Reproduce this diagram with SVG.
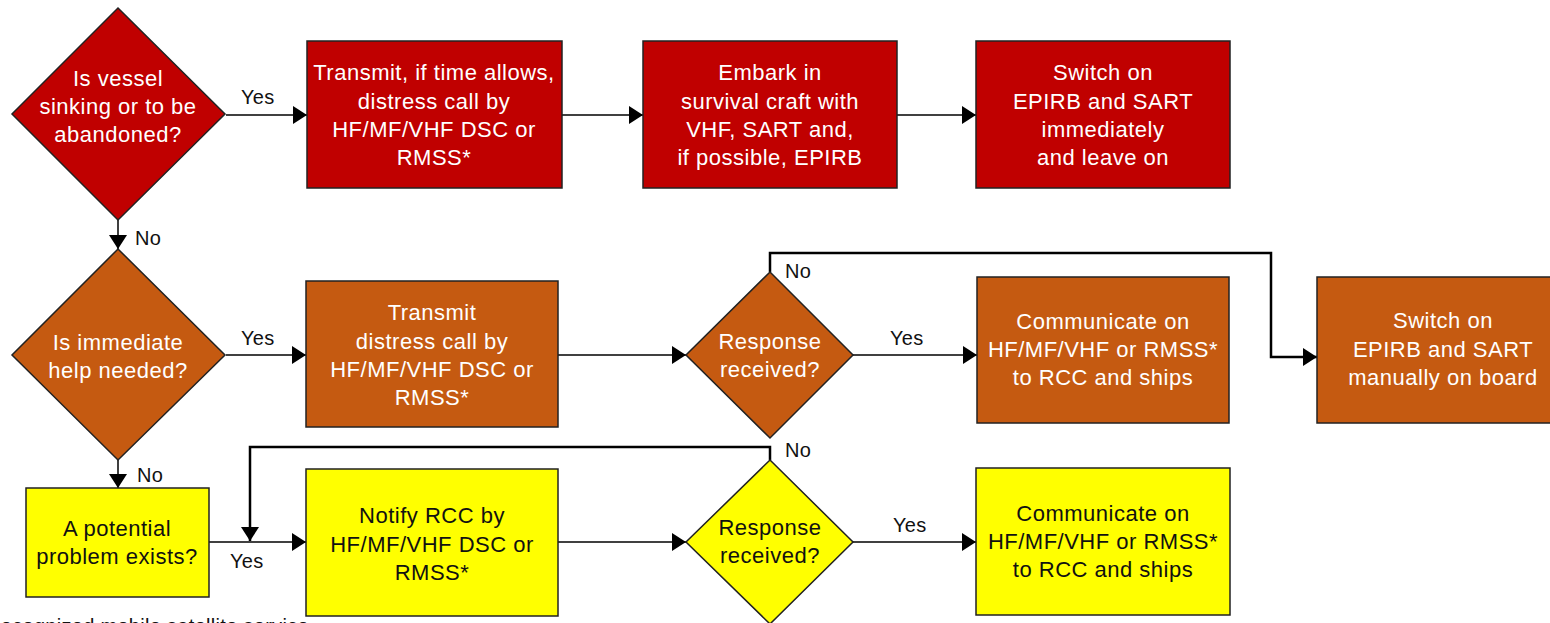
<svg xmlns="http://www.w3.org/2000/svg" width="1550" height="623" viewBox="0 0 1550 623">
<defs>
<style>
.red{fill:#C00000;stroke:#222;stroke-width:1.5}
.org{fill:#C55A11;stroke:#222;stroke-width:1.5}
.yel{fill:#FFFF00;stroke:#222;stroke-width:1.5}
text{font-family:"Liberation Sans",Arial,sans-serif;font-size:22px;letter-spacing:0.5px;text-anchor:middle}
.w{fill:#FFFFFF}
.k{fill:#111}
.lbl{fill:#111;font-size:20px;text-anchor:start;letter-spacing:0.3px}
.c{fill:none;stroke:#000;stroke-width:1.5}
.c2{fill:none;stroke:#000;stroke-width:2.5}
</style>
<marker id="ah" markerUnits="userSpaceOnUse" markerWidth="15" markerHeight="20" refX="14" refY="10" orient="auto">
<path d="M0,1 L14,10 L0,19 z" fill="#000"/>
</marker>
</defs>
<rect width="1550" height="623" fill="#fff"/>

<g id="connectors">
<line class="c" x1="226" y1="115" x2="307" y2="115" marker-end="url(#ah)"/>
<line class="c" x1="562" y1="115" x2="643" y2="115" marker-end="url(#ah)"/>
<line class="c" x1="897" y1="115" x2="976" y2="115" marker-end="url(#ah)"/>
<line class="c" x1="118" y1="220" x2="118" y2="249" marker-end="url(#ah)"/>
<line class="c" x1="226" y1="355" x2="306" y2="355" marker-end="url(#ah)"/>
<line class="c" x1="558" y1="355" x2="686" y2="355" marker-end="url(#ah)"/>
<line class="c" x1="853" y1="355" x2="977" y2="355" marker-end="url(#ah)"/>
<polyline class="c2" points="770,272 770,253 1271,253 1271,357 1317,357" marker-end="url(#ah)"/>
<line class="c" x1="118" y1="460" x2="118" y2="488" marker-end="url(#ah)"/>
<line class="c" x1="209" y1="542" x2="306" y2="542" marker-end="url(#ah)"/>
<polyline class="c2" points="770,460 770,447 250,447 250,541" marker-end="url(#ah)"/>
<line class="c" x1="558" y1="542" x2="686" y2="542" marker-end="url(#ah)"/>
<line class="c" x1="853" y1="542" x2="976" y2="542" marker-end="url(#ah)"/>
<text class="lbl" x="241" y="104">Yes</text>
<text class="lbl" x="135" y="245">No</text>
<text class="lbl" x="241" y="345">Yes</text>
<text class="lbl" x="890" y="345">Yes</text>
<text class="lbl" x="785" y="278">No</text>
<text class="lbl" x="137" y="482">No</text>
<text class="lbl" x="230" y="568">Yes</text>
<text class="lbl" x="785" y="457">No</text>
<text class="lbl" x="893" y="532">Yes</text>
</g>

<g id="d1">
<polygon class="red" points="118,8 225,114 118,220 12,114"/>
<text class="w" x="118" y="86">Is vessel</text>
<text class="w" x="118" y="114">sinking or to be</text>
<text class="w" x="118" y="142">abandoned?</text>
</g>
<g id="r1">
<rect class="red" x="307" y="41" width="255" height="147"/>
<text class="w" x="434" y="80">Transmit, if time allows,</text>
<text class="w" x="434" y="109">distress call by</text>
<text class="w" x="434" y="137">HF/MF/VHF DSC or</text>
<text class="w" x="434" y="165">RMSS*</text>
</g>
<g id="r2">
<rect class="red" x="643" y="41" width="254" height="147"/>
<text class="w" x="770" y="80">Embark in</text>
<text class="w" x="770" y="109">survival craft with</text>
<text class="w" x="770" y="137">VHF, SART and,</text>
<text class="w" x="770" y="165">if possible, EPIRB</text>
</g>
<g id="r3">
<rect class="red" x="976" y="41" width="254" height="147"/>
<text class="w" x="1103" y="80">Switch on</text>
<text class="w" x="1103" y="109">EPIRB and SART</text>
<text class="w" x="1103" y="137">immediately</text>
<text class="w" x="1103" y="165">and leave on</text>
</g>

<g id="d2">
<polygon class="org" points="118,249 225,355 118,460 12,355"/>
<text class="w" x="118" y="350">Is immediate</text>
<text class="w" x="118" y="378">help needed?</text>
</g>
<g id="o1">
<rect class="org" x="306" y="281" width="252" height="146"/>
<text class="w" x="432" y="320">Transmit</text>
<text class="w" x="432" y="349">distress call by</text>
<text class="w" x="432" y="377">HF/MF/VHF DSC or</text>
<text class="w" x="432" y="405">RMSS*</text>
</g>
<g id="d3">
<polygon class="org" points="770,272 853,355 770,438 686,355"/>
<text class="w" x="770" y="349">Response</text>
<text class="w" x="770" y="377">received?</text>
</g>
<g id="o2">
<rect class="org" x="977" y="277" width="252" height="146"/>
<text class="w" x="1103" y="329">Communicate on</text>
<text class="w" x="1103" y="357">HF/MF/VHF or RMSS*</text>
<text class="w" x="1103" y="385">to RCC and ships</text>
</g>
<g id="o3">
<rect class="org" x="1317" y="277" width="252" height="146"/>
<text class="w" x="1443" y="328">Switch on</text>
<text class="w" x="1443" y="357">EPIRB and SART</text>
<text class="w" x="1443" y="385">manually on board</text>
</g>

<g id="y1">
<rect class="yel" x="26" y="488" width="183" height="109"/>
<text class="k" x="117" y="536">A potential</text>
<text class="k" x="117" y="564">problem exists?</text>
</g>
<g id="y2">
<rect class="yel" x="306" y="469" width="252" height="147"/>
<text class="k" x="432" y="523">Notify RCC by</text>
<text class="k" x="432" y="552">HF/MF/VHF DSC or</text>
<text class="k" x="432" y="580">RMSS*</text>
</g>
<g id="d4">
<polygon class="yel" points="770,460 853,542 770,624 686,542"/>
<text class="k" x="770" y="535">Response</text>
<text class="k" x="770" y="563">received?</text>
</g>
<g id="y3">
<rect class="yel" x="976" y="468" width="254" height="147"/>
<text class="k" x="1103" y="521">Communicate on</text>
<text class="k" x="1103" y="549">HF/MF/VHF or RMSS*</text>
<text class="k" x="1103" y="577">to RCC and ships</text>
</g>

<g id="footnote">
<text class="lbl" x="-14" y="633">Recognized mobile satellite service</text>
</g>
</svg>
